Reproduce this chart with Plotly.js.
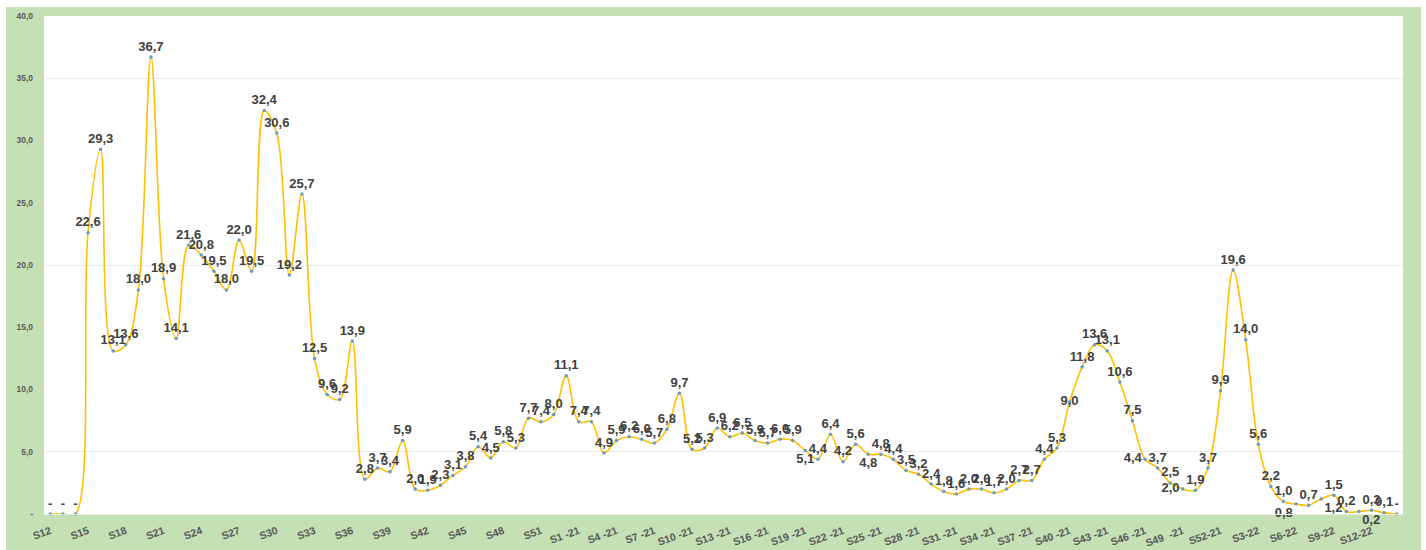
<!DOCTYPE html>
<html>
<head>
<meta charset="utf-8">
<script src="https://cdn.plot.ly/plotly-3.0.1.min.js"></script>
<style>
  html, body { margin: 0; padding: 0; background: #ffffff; }
  #chart { position: absolute; left: 6px; top: 7px; width: 1415px; height: 543px; }
</style>
</head>
<body>
<div id="chart"></div>
<script>
// ---- data ----
const weeks = [
  'S12','S13','S14','S15','S16','S17','S18','S19','S20','S21','S22','S23','S24','S25','S26','S27',
  'S28','S29','S30','S31','S32','S33','S34','S35','S36','S37','S38','S39','S40','S41','S42','S43',
  'S44','S45','S46','S47','S48','S49','S50','S51','S52','S53',
  'S1-21','S2-21','S3-21','S4-21','S5-21','S6-21','S7-21','S8-21','S9-21','S10-21','S11-21','S12-21',
  'S13-21','S14-21','S15-21','S16-21','S17-21','S18-21','S19-21','S20-21','S21-21','S22-21','S23-21',
  'S24-21','S25-21','S26-21','S27-21','S28-21','S29-21','S30-21','S31-21','S32-21','S33-21','S34-21',
  'S35-21','S36-21','S37-21','S38-21','S39-21','S40-21','S41-21','S42-21','S43-21','S44-21','S45-21',
  'S46-21','S47-21','S48-21','S49-21','S50-21','S51-21','S52-21',
  'S1-22','S2-22','S3-22','S4-22','S5-22','S6-22','S7-22','S8-22','S9-22','S10-22','S11-22','S12-22',
  'S13-22','S14-22'
];

const rates = [
  0, 0, 0, 22.6, 29.3, 13.1, 13.6, 18.0, 36.7, 18.9, 14.1, 21.6, 20.8, 19.5, 18.0, 22.0,
  19.5, 32.4, 30.6, 19.2, 25.7, 12.5, 9.6, 9.2, 13.9, 2.8, 3.7, 3.4, 5.9, 2.0, 1.9, 2.3,
  3.1, 3.8, 5.4, 4.5, 5.8, 5.3, 7.7, 7.4, 8.0, 11.1,
  7.4, 7.4, 4.9, 5.9, 6.2, 6.0, 5.7, 6.8, 9.7, 5.2, 5.3, 6.9,
  6.2, 6.5, 5.9, 5.7, 6.0, 5.9, 5.1, 4.4, 6.4, 4.2, 5.6,
  4.8, 4.8, 4.4, 3.5, 3.2, 2.4, 1.8, 1.6, 2.0, 2.0, 1.7,
  2.0, 2.7, 2.7, 4.4, 5.3, 9.0, 11.8, 13.6, 13.1, 10.6, 7.5,
  4.4, 3.7, 2.5, 2.0, 1.9, 3.7, 9.9,
  19.6, 14.0, 5.6, 2.2, 1.0, 0.8, 0.7, 1.2, 1.5, 0.2, 0.2, 0.3,
  0.1, 0
];

const xTickLabels = [
  'S12','S15','S18','S21','S24','S27','S30','S33','S36','S39','S42','S45','S48','S51',
  'S1 -21','S4 -21','S7 -21','S10 -21','S13 -21','S16 -21','S19 -21','S22 -21','S25 -21',
  'S28 -21','S31 -21','S34 -21','S37 -21','S40 -21','S43 -21','S46 -21','S49\u00a0\u00a0-21','S52-21',
  'S3-22','S6-22','S9-22','S12-22'
];

const yTickValues = [0, 5, 10, 15, 20, 25, 30, 35, 40];
const yTickLabels = ['-', '5,0', '10,0', '15,0', '20,0', '25,0', '30,0', '35,0', '40,0'];
const gridValues = [5, 20, 35];

// ---- styling of labels (position overrides) ----
const labelPlacement = {
  60: 'bottom center', 65: 'bottom center', 81: 'middle center', 87: 'middle left',
  90: 'middle left', 99: 'bottom left', 101: 'bottom right', 104: 'bottom right'
};

const labelText = rates.map(v => v === 0 ? '-' : v.toFixed(1).replace('.', ','));
const labelPos = rates.map((v, i) => labelPlacement[i] || 'top center');
const tickVals = weeks.filter((w, i) => i % 3 === 0);

const FONT = 'Liberation Sans, Arial, sans-serif';

const traces = [
  {
    type: 'scatter',
    mode: 'lines+markers+text',
    x: weeks,
    y: rates,
    text: labelText,
    textposition: labelPos,
    textfont: { family: FONT, size: 13, color: '#404040', weight: 'bold' },
    line: { color: '#FFC000', width: 1.6, shape: 'spline', smoothing: 1 },
    marker: { color: '#6A9BC3', size: 3.5 },
    cliponaxis: false,
    hoverinfo: 'x+y',
    showlegend: false
  },
  {
    type: 'scatter', mode: 'lines', x: [], y: [], yaxis: 'y2',
    showlegend: false, hoverinfo: 'skip'
  }
];

const layout = {
  width: 1415,
  height: 543,
  margin: { l: 38, r: 18, t: 9, b: 36, pad: 0 },
  paper_bgcolor: '#C5E0B4',
  plot_bgcolor: '#FFFFFF',
  showlegend: false,
  font: { family: FONT, color: '#595959' },
  xaxis: {
    type: 'category',
    categoryorder: 'array',
    categoryarray: weeks,
    range: [-0.5, weeks.length - 0.5],
    tickmode: 'array',
    tickvals: tickVals,
    ticktext: xTickLabels,
    tickangle: -20,
    tickfont: { family: FONT, size: 10.5, color: '#595959', weight: 'bold' },
    ticks: '',
    ticklabelstandoff: 6,
    showgrid: false,
    zeroline: false,
    showline: true,
    linecolor: '#E8EEDC',
    linewidth: 1,
    automargin: false,
    fixedrange: true
  },
  yaxis: {
    range: [0, 40],
    tickmode: 'array',
    tickvals: yTickValues,
    ticktext: yTickLabels,
    tickfont: { family: FONT, size: 8.5, color: '#595959', weight: 'bold' },
    ticks: '',
    ticklabelstandoff: 10,
    showgrid: false,
    zeroline: false,
    showline: false,
    automargin: false,
    fixedrange: true
  },
  yaxis2: {
    overlaying: 'y',
    side: 'left',
    range: [0, 40],
    tickmode: 'array',
    tickvals: gridValues,
    showticklabels: false,
    ticks: '',
    showgrid: true,
    gridcolor: '#EBEBEB',
    gridwidth: 1,
    zeroline: false,
    showline: false,
    fixedrange: true
  }
};

Plotly.newPlot('chart', traces, layout, { displayModeBar: false, staticPlot: true });
</script>
</body>
</html>
